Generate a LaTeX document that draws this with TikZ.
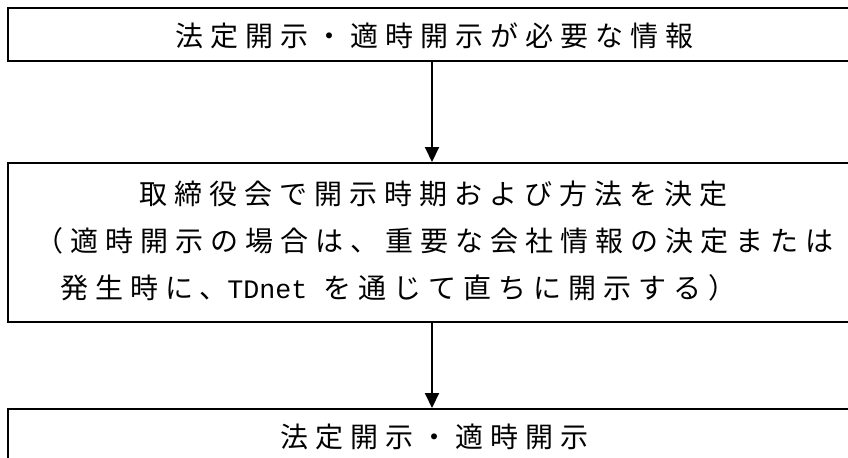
\documentclass[tikz,border=0pt]{standalone}
\usepackage{fontspec}
\newfontfamily\jp[LetterSpace=25]{Noto Sans CJK JP}
\newfontfamily\jplat{Liberation Mono}
\usetikzlibrary{arrows.meta}
\begin{document}
\begin{tikzpicture}[x=0.75pt,y=-0.75pt,
  box/.style={draw, line width=1.5pt, inner sep=0pt, minimum width=636pt},
  txt/.style={font=\jp\fontsize{21pt}{26pt}\selectfont, inner sep=0pt},
  arr/.style={line width=1.5pt, -{Triangle[length=11.25pt,width=10.5pt]}}]
\useasboundingbox (0,0) rectangle (848,457);
\clip (0,0) rectangle (848,457);
\node[box, minimum height=39.75pt] (top) at (432,34.5) {};
\node[box, minimum height=119.25pt] (mid) at (432,242.5) {};
\node[box, minimum height=42pt] (bot) at (432,437) {};
\node[txt] (t1) at (434,36) {法定開示・適時開示が必要な情報};
\node[txt] (m1) at (433,194) {取締役会で開示時期および方法を決定};
\node[txt] (m2) at (434,241) {（適時開示の場合は、重要な会社情報の決定または};
\node[txt, anchor=west] (m3) at (60,288) {発生時に、{\jplat\fontsize{20pt}{26pt}\selectfont TDnet\ }を通じて直ちに開示する）};
\node[txt] (b1) at (434,437) {法定開示・適時開示};
\draw[arr] (top) -- (mid);
\draw[arr] (mid) -- (bot);
\end{tikzpicture}
\end{document}
